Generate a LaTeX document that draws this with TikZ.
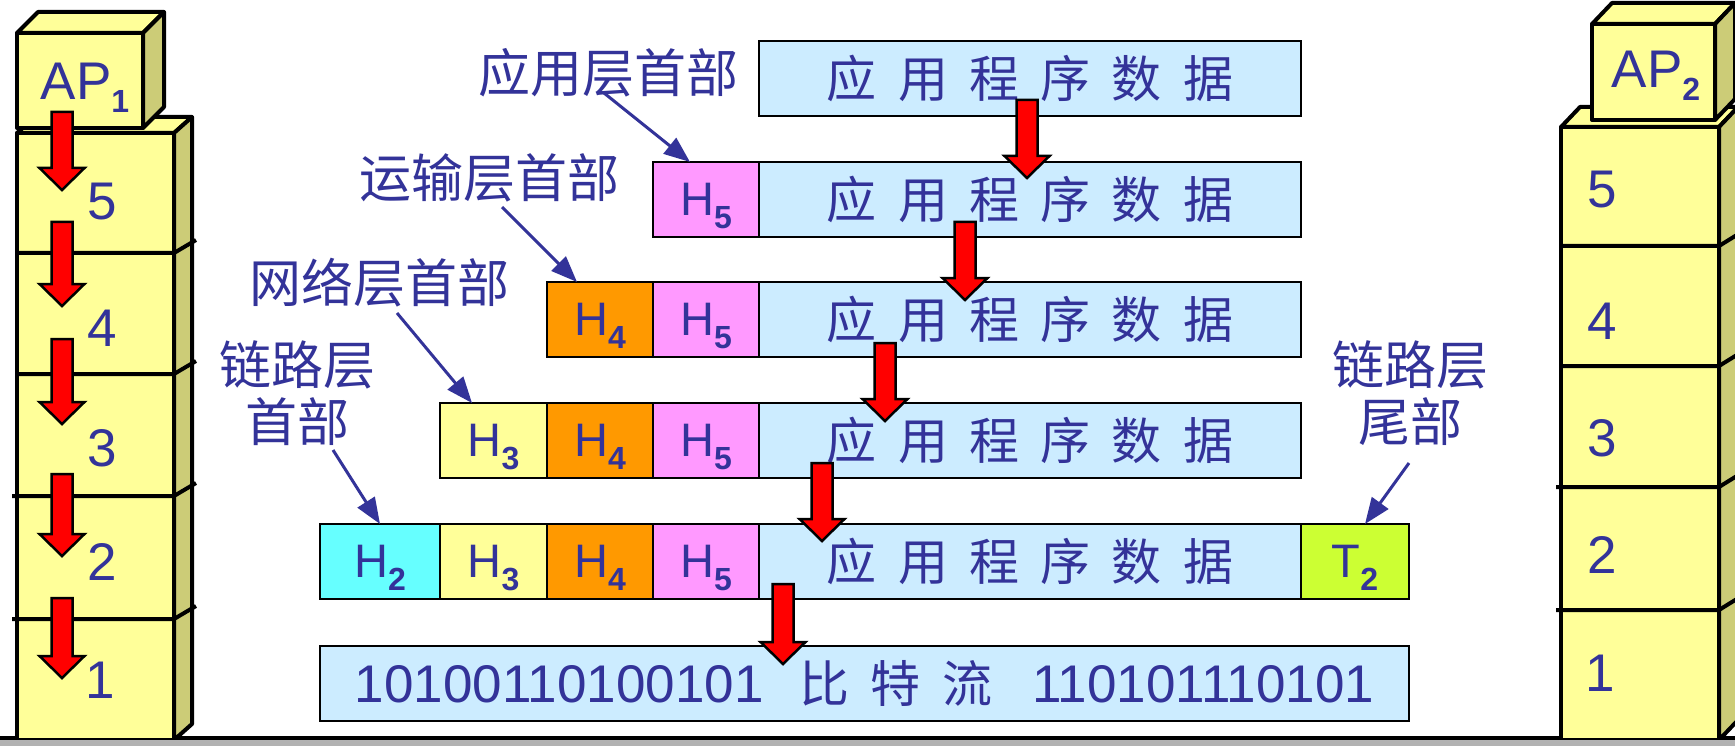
\documentclass[tikz,border=0pt]{standalone}
\usepackage{fontspec}
\setmainfont{Liberation Sans}
\newfontfamily\cjk[WordSpace=1.9]{Noto Sans CJK SC}
\usetikzlibrary{arrows.meta,calc}
\definecolor{txt}{HTML}{333399}
\definecolor{ylw}{HTML}{FFFF99}
\definecolor{side}{HTML}{CCCC77}
\definecolor{dat}{HTML}{CCECFF}
\definecolor{pnk}{HTML}{FF99FF}
\definecolor{orng}{HTML}{FF9900}
\definecolor{cyn}{HTML}{66FFFF}
\definecolor{lme}{HTML}{CCFF33}
\definecolor{gry}{HTML}{B2B2B2}
\newcommand\subs[1]{\smash{\raisebox{-13pt}{\fontsize{32}{32}\selectfont\bfseries #1}}}
\newcommand\cubebox[6]{% x1 y1 x2 y2 dx dy
  \filldraw[stackline,fill=ylw] (#1,#2) -- ++(#5,-#6) -- (#3+#5,#2-#6) -- (#3,#2) -- cycle;
  \filldraw[stackline,fill=side] (#3,#2) -- (#3+#5,#2-#6) -- (#3+#5,#4-#6) -- (#3,#4) -- cycle;
  \filldraw[stackline,fill=ylw] (#1,#2) rectangle (#3,#4);}
\newcommand\redarr[3]{% x ytop ytip
  \filldraw[fill=red,draw=black,line width=2.5pt,line join=miter]
    (#1-10.5,#2) -- (#1+10.5,#2) -- (#1+10.5,#3-22) -- (#1+22.5,#3-22) -- (#1,#3)
    -- (#1-22.5,#3-22) -- (#1-10.5,#3-22) -- cycle;}
\tikzset{
  stackline/.style={draw=black,line width=4pt,line join=round},
  divline/.style={draw=black,line width=4pt},
  cell/.style={draw=black,line width=2.5pt,minimum height=75pt,inner sep=0pt,outer sep=0pt,
    anchor=north west,text=txt,font=\fontsize{47}{47}\selectfont},
  datatext/.style={font=\cjk\fontsize{50}{50}\selectfont},
  num/.style={text=txt,inner sep=0pt,font=\fontsize{53}{53}\selectfont},
  lab/.style={text=txt,inner sep=0pt,align=center,font=\cjk\fontsize{52}{57}\selectfont},
  lbl/.style={draw=txt,line width=3pt,-{Triangle[length=26pt,width=20pt]}},
}
\begin{document}
\begin{tikzpicture}[x=1pt,y=-1pt]
\useasboundingbox (0,0) rectangle (1735,746);
\fill[white] (0,0) rectangle (1735,746);
% ground line
\fill[black] (0,736) rectangle (1735,740);
% left stack
\cubebox{17}{133}{174}{740}{18}{16}
\foreach \y/\s in {253/17,374/17,496/12,619/12}
  \draw[divline] (\s,\y) -- (174,\y) -- (196,\y-13);
\cubebox{17}{33}{143}{128}{21}{21}
\node[num] (ap1) at (85,81) {AP\subs{1}};
\node[num] (l5) at (102,202) {5};
\node[num] (l4) at (102,328) {4};
\node[num] (l3) at (102,448) {3};
\node[num] (l2) at (102,562) {2};
\node[num] (l1) at (100,680) {1};
% right stack
\cubebox{1561}{127}{1719}{740}{19}{20}
\foreach \y/\s in {246/1561,366/1561,487/1556,610/1556}
  \draw[divline] (\s,\y) -- (1719,\y) -- (1740,\y-13);
\cubebox{1592}{24}{1715}{120}{20}{21}
\node[num] (ap2) at (1656,69) {AP\subs{2}};
\node[num] (r5) at (1602,190) {5};
\node[num] (r4) at (1602,321) {4};
\node[num] (r3) at (1602,438) {3};
\node[num] (r2) at (1602,555) {2};
\node[num] (r1) at (1600,673) {1};
% ground band
\fill[gry] (0,740) rectangle (1735,746);
% rows
\node[cell,fill=dat,minimum width=542pt,datatext] (r1d) at (759,41) {应 用 程 序 数 据};
\node[cell,fill=pnk,minimum width=106pt] (r2h5) at (653,162) {H\subs{5}};
\node[cell,fill=dat,minimum width=542pt,datatext] (r2d) at (759,162) {应 用 程 序 数 据};
\node[cell,fill=orng,minimum width=106pt] (r3h4) at (547,282) {H\subs{4}};
\node[cell,fill=pnk,minimum width=106pt] (r3h5) at (653,282) {H\subs{5}};
\node[cell,fill=dat,minimum width=542pt,datatext] (r3d) at (759,282) {应 用 程 序 数 据};
\node[cell,fill=ylw,minimum width=107pt] (r4h3) at (440,403) {H\subs{3}};
\node[cell,fill=orng,minimum width=106pt] (r4h4) at (547,403) {H\subs{4}};
\node[cell,fill=pnk,minimum width=106pt] (r4h5) at (653,403) {H\subs{5}};
\node[cell,fill=dat,minimum width=542pt,datatext] (r4d) at (759,403) {应 用 程 序 数 据};
\node[cell,fill=cyn,minimum width=120pt] (r5h2) at (320,524) {H\subs{2}};
\node[cell,fill=ylw,minimum width=107pt] (r5h3) at (440,524) {H\subs{3}};
\node[cell,fill=orng,minimum width=106pt] (r5h4) at (547,524) {H\subs{4}};
\node[cell,fill=pnk,minimum width=106pt] (r5h5) at (653,524) {H\subs{5}};
\node[cell,fill=dat,minimum width=542pt,datatext] (r5d) at (759,524) {应 用 程 序 数 据};
\node[cell,fill=lme,minimum width=108pt] (r5t2) at (1301,524) {T\subs{2}};
\node[cell,fill=dat,minimum width=1089pt,font=\fontsize{53}{53}\selectfont] (r6) at (320,646)
  {10100110100101\hspace{36pt}{\cjk\fontsize{50}{50}\selectfont 比 特 流}\hspace{40pt}110101110101};
% red block arrows
\redarr{62}{112}{190}
\redarr{62}{222}{306}
\redarr{62}{339}{424}
\redarr{62}{474}{556}
\redarr{62}{598}{678}
\redarr{1027}{100}{178}
\redarr{965}{222}{300}
\redarr{885}{343}{421}
\redarr{822}{463}{541}
\redarr{783}{584}{664}
% labels
\node[lab] (lb1) at (608,73) {应用层首部};
\node[lab] (lb2) at (489,178) {运输层首部};
\node[lab] (lb3) at (379,283) {网络层首部};
\node[lab] (lb4) at (297,393) {链路层\\首部};
\node[lab] (lb5) at (1410,393) {链路层\\尾部};
\coordinate (s1) at (604,93);
\coordinate (s2) at (502,207);
\coordinate (s3) at (397,313);
\coordinate (s4) at (333,450);
\coordinate (s5) at (1409,463);
\draw[lbl] (s1) -- ([xshift=37pt]r2h5.north west);
\draw[lbl] (s2) -- ([xshift=30pt]r3h4.north west);
\draw[lbl] (s3) -- ([xshift=32pt]r4h3.north west);
\draw[lbl] (s4) -- ([xshift=60pt]r5h2.north west);
\draw[lbl] (s5) -- ([xshift=64pt]r5t2.north west);
\end{tikzpicture}
\end{document}
